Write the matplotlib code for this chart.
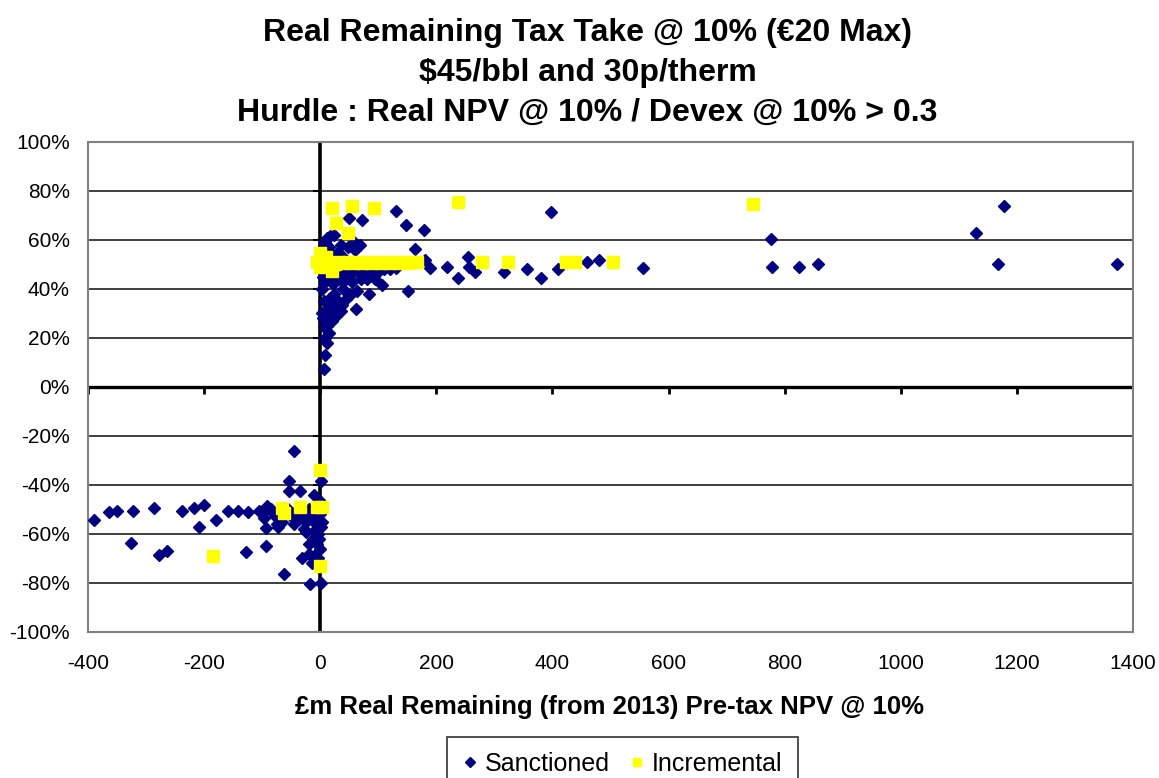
import matplotlib.pyplot as plt

plt.rcParams['font.family'] = ['Liberation Sans', 'DejaVu Sans']
plt.rcParams['axes.unicode_minus'] = False

# Sanctioned fields: pre-tax NPV (£m) and tax take (%)
sanctioned_x = [
    -389, -364, -350, -323, -326, -286, -278, -264, -238, -217, -201, -209, -180,
    -158, -141, -124, -127, -105, -91, -97, -93, -93, -62, -45, -53, -53, -34, -65,
    -37, -11, 1, -24, -31, -19, -14, -17, 1, -2, -55, -48, -40, -30, -25, -20, -15,
    -10, -5, 0, 3, -8, -3, 2, -28, -12, -6, 0, -20, -10, -4, -70, -80, -85, -75,
    -60, -45, 2, -2, -77, -100, -73,
    776, 779, 824, 858, 1130, 1178, 1167, 1373, 556, 460, 481, 410, 398, 381, 357,
    316, 266, 256, 254, 237, 218, 189, 181, 178, 163, 148, 130, 151,
    6, 9, 12, 6, 12, 20, 6, 14, 26, 37, 61, 52, 63, 84, 106, 131, 72, 49, 69, 58,
    12, 23, 6, 9, 17, 3, 8, 15, 22, 30, 40, 50, 4, 12, 25, 35, 45, 55, 65, 75, 90,
    100, 110, 120, 3, 10, 16, 24, 30, 40, 18, 28, 35, 45, 55, 70, 80, 95, 5, 10,
    20, 30, 40, 4, 15, 35, 48, 60, 85, 100, 8, 15, 5,
]
sanctioned_y = [
    -54.5, -51, -50.5, -50.5, -63.5, -49.5, -68.5, -67, -50.5, -49.5, -48, -57, -54.5,
    -50.5, -50.5, -51, -67.5, -50.5, -48.5, -53.5, -57.5, -65, -76.5, -26, -38.5,
    -42.5, -42.5, -55, -54, -44, -38.5, -59, -70, -68, -72, -80.5, -80, -62, -50,
    -53, -51, -52, -55, -50, -53, -55, -51, -52, -55, -58, -60, -57, -58, -62, -64,
    -66, -64, -69, -70, -53, -52, -50, -56, -51, -56, -48, -46, -53, -51.5, -57,
    60.5, 49, 49, 50, 63, 74, 50, 50, 48.5, 51, 52, 48, 71.5, 44.5, 48,
    47, 47, 49, 53, 44.5, 49, 48.5, 52, 64, 56.5, 66, 72, 39,
    7.5, 13, 18, 24.5, 25, 27, 35, 32, 33, 33.5, 32, 37.5, 39, 38, 41.5, 48.5, 68,
    69, 58, 59, 61, 62, 58, 59, 61.5, 40, 43, 44, 42, 44, 43, 45, 45, 47, 46, 45.5,
    47, 47, 47, 47, 46.5, 47, 48, 48, 30, 28, 36, 38, 35, 40, 30, 29, 31, 36, 43,
    44, 44, 44, 50, 52, 54, 55, 53, 55, 57, 58, 57, 56, 50, 50.5, 20, 22, 28,
]

# Incremental projects
incremental_x = [
    0, -65, -62, -35, -5, 3, 0, -185,
    21, 55, 92, 27, 48, 237, 746,
    -5, 0, 5, 10, 15, 20, 25, 0, 3,
    32, 40, 48, 56, 64, 72, 80, 88, 96, 104, 112, 120, 128, 136, 144, 152, 160, 166,
    278, 323, 424, 438, 505,
]
incremental_y = [
    -34, -49.5, -51.5, -49, -49, -49, -73, -69,
    73, 74, 73, 67, 63, 75.5, 74.5,
    51, 54.5, 52, 53, 50, 47.5, 50, 49, 51,
    51, 50.5, 51, 50.5, 51, 50.5, 51, 50.5, 51, 50.5, 51, 50.5, 51, 50.5, 51, 50.5,
    51, 51,
    51, 51, 51, 51, 51,
]

x_ticks = [-400, -200, 0, 200, 400, 600, 800, 1000, 1200, 1400]
y_ticks = [-100, -80, -60, -40, -20, 0, 20, 40, 60, 80, 100]

fig = plt.figure(figsize=(11.59, 7.78), dpi=100)
ax = fig.add_axes([0.0759, 0.1877, 0.9017, 0.6298])

# horizontal gridlines
for yv in y_ticks:
    ax.axhline(yv, color='#303030', lw=1.3, zorder=1)
ax.axhline(0, color='black', lw=2.4, zorder=2)
ax.axvline(0, color='black', lw=2.6, zorder=2)

# tick marks on the zero axes
ax.plot(x_ticks, [0] * len(x_ticks), ls='', marker=3, ms=5, mew=2, color='black', zorder=2)
ax.plot([0] * len(y_ticks), y_ticks, ls='', marker=0, ms=5, mew=1.5, color='black', zorder=2)

ax.plot(sanctioned_x, sanctioned_y, ls='', marker='D', ms=6.6, color='#000080',
        mec='#000080', label='Sanctioned', zorder=3)
ax.plot(incremental_x, incremental_y, ls='', marker='s', ms=8.4, color='#FFFF00',
        mec='#FFFF00', label='Incremental', zorder=4)

ax.set_xlim(-400, 1400)
ax.set_ylim(-100, 100)
ax.set_xticks(x_ticks)
ax.set_yticks(y_ticks)
ax.set_yticklabels(['%d%%' % v for v in y_ticks])
ax.tick_params(length=0, labelsize=15, pad=13)
ax.tick_params(axis='x', pad=16)
for sp in ax.spines.values():
    sp.set_color('#808080')
    sp.set_linewidth(1.5)

fig.text(0.507, 0.906,
         'Real Remaining Tax Take @ 10% (€20 Max)\n$45/bbl and 30p/therm\n'
         'Hurdle : Real NPV @ 10% / Devex @ 10% > 0.3',
         ha='center', va='center', fontsize=23, fontweight='bold', linespacing=1.42)
fig.text(0.526, 0.0913, '£m Real Remaining (from 2013) Pre-tax NPV @ 10%',
         ha='center', va='center', fontsize=18.5, fontweight='bold')

leg = fig.legend(loc='upper center', bbox_to_anchor=(0.537, 0.053), ncol=2,
                 fontsize=18, frameon=True, fancybox=False, edgecolor='black',
                 handlelength=0.6, handletextpad=0.3, columnspacing=0.8,
                 borderpad=0.6, borderaxespad=0, markerscale=0.75)
leg.get_frame().set_linewidth(1.2)

fig.savefig('out.png', dpi=100)
